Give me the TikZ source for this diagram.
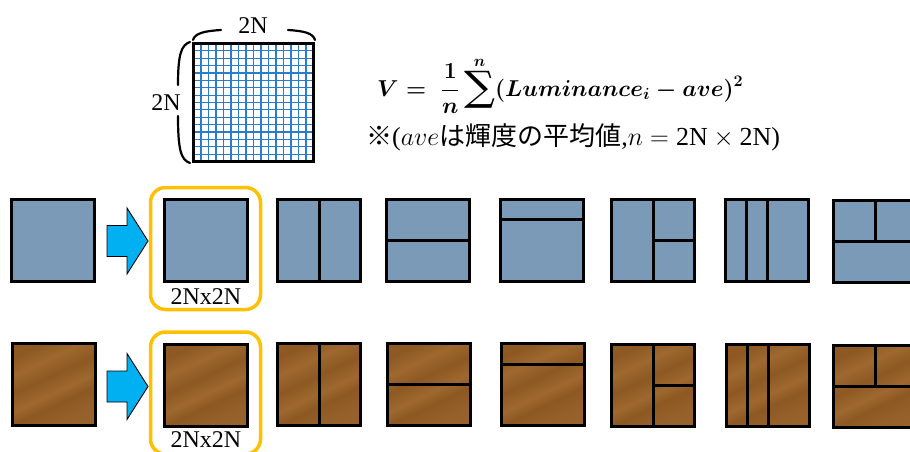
\RequirePackage{fix-cm}
\documentclass[tikz,border=0pt]{standalone}
\usepackage{graphicx}
\usepackage{fontspec}
\setmainfont{Liberation Serif}
\newfontfamily\jpfont{Noto Sans CJK JP}
\newfontfamily\sumfont{DejaVu Serif}
\usetikzlibrary{calc}
\definecolor{bluefill}{RGB}{122,154,184}
\definecolor{woodA}{RGB}{141,88,34}
\definecolor{woodB}{RGB}{158,104,48}
\definecolor{woodC}{RGB}{149,96,41}
\definecolor{hlorange}{RGB}{255,192,0}
\definecolor{arrowblue}{RGB}{0,176,240}
\definecolor{gridblue}{RGB}{40,125,205}
\pgfdeclarehorizontalshading{wood}{100bp}{color(0bp)=(woodC); color(25bp)=(woodA); color(35bp)=(woodB); color(45bp)=(woodA); color(55bp)=(woodB); color(62bp)=(woodA); color(72bp)=(woodC); color(100bp)=(woodB)}
\newsavebox{\myboxA}
\newsavebox{\myboxB}
\newcommand{\bigsumsym}{\mathop{\vcenter{\hbox{\resizebox*{31pt}{37pt}{\sumfont ∑}}}}\limits^{n\rule[-4pt]{0pt}{4pt}}}
\begin{document}
\sbox{\myboxA}{\fontsize{23}{27}\selectfont\mathversion{bold}$V=\;\displaystyle\frac{1}{n}\bigsumsym(Luminance_i-ave)^2$}
\sbox{\myboxB}{\fontsize{26}{30}\selectfont{\jpfont ※}($ave${\jpfont は輝度の平均値},$n=\mbox{2N}\times\mbox{2N}$)}
\begin{tikzpicture}[x=1pt,y=-1pt,
  sqbox/.style={draw=black, line width=3pt, minimum width=83pt, minimum height=82pt, inner sep=0pt, outer sep=0pt},
  bluesq/.style={sqbox, fill=bluefill},
  woodsq/.style={sqbox, shading=wood, shading angle=-65},
  divline/.style={draw=black, line width=3pt},
  hlbox/.style={draw=hlorange, line width=3.5pt, rounded corners=15pt},
  bigarrow/.style={draw=black, line width=0.9pt, fill=arrowblue, line join=miter},
  lbl/.style={font=\fontsize{24}{28}\selectfont, inner sep=0pt},
  bracepath/.style={draw=black, line width=2.2pt, line cap=round},
  gridline/.style={draw=gridblue, line width=1.1pt},
  txtbox/.style={anchor=base west, inner sep=0pt}
]
\useasboundingbox (0,0) rectangle (910,452);
\clip (0,0) rectangle (910,452);

% grid block
\foreach \i in {1,...,15} {
  \draw[gridline] ({193.5+\i*7.5},43.5) -- ({193.5+\i*7.5},161.5);
  \draw[gridline] (193.5,{43.5+\i*7.375}) -- (313.5,{43.5+\i*7.375});
}
\node[draw=black, line width=3pt, minimum width=120pt, minimum height=118pt, inner sep=0pt, outer sep=0pt] (grid) at (253.5,102.5) {};
\node[lbl] (topl) at (253,26) {2N};
\node[lbl] (leftl) at (166,103) {2N};
\draw[bracepath] (193,40) .. controls (195,33) and (205,31) .. (221,30);
\draw[bracepath] (288,30) .. controls (304,31) and (313,33) .. (315,40);
\draw[bracepath] (190,42) .. controls (181,45) and (178,55) .. (178,85);
\draw[bracepath] (178,116) .. controls (178,150) and (181,160) .. (190,163);

% formula
\node[txtbox] (f1) at (377,96) {\usebox{\myboxA}};
\node[txtbox] (f2) at (366,145) {\usebox{\myboxB}};

% row 1
\node[bluesq] (b1) at (53,240) {};
\node[bluesq] (b2) at (206,240.5) {};
\node[bluesq] (b3) at (319,240) {};
\node[bluesq] (b4) at (428,240) {};
\node[bluesq] (b5) at (542,240) {};
\node[bluesq] (b6) at (653,240.5) {};
\node[bluesq] (b7) at (767,240) {};
\node[bluesq] (b8) at (875,241.5) {};
% row 2
\node[woodsq] (w1) at (53.5,384) {};
\node[woodsq] (w2) at (206,385) {};
\node[woodsq] (w3) at (319,384.5) {};
\node[woodsq] (w4) at (428.5,384.5) {};
\node[woodsq] (w5) at (543,384.5) {};
\node[woodsq] (w6) at (653,385) {};
\node[woodsq] (w7) at (768,385.5) {};
\node[woodsq] (w8) at (875,386.5) {};

\foreach \r in {b,w} {
  \draw[divline] (\r3.north) -- (\r3.south);
  \draw[divline] (\r4.west) -- (\r4.east);
  \draw[divline] ($(\r5.north west)!0.25!(\r5.south west)$) -- ($(\r5.north east)!0.25!(\r5.south east)$);
  \draw[divline] (\r6.north) -- (\r6.south);
  \draw[divline] (\r6.center) -- (\r6.east);
  \draw[divline] ($(\r7.north west)!0.25!(\r7.north east)$) -- ($(\r7.south west)!0.25!(\r7.south east)$);
  \draw[divline] (\r7.north) -- (\r7.south);
  \draw[divline] (\r8.west) -- (\r8.east);
  \draw[divline] (\r8.north) -- (\r8.center);
}

% highlight boxes
\draw[hlbox] (150.5,187.5) rectangle (260.5,309.5);
\draw[hlbox] (150.5,332) rectangle (260.5,454);
\node[lbl] (l1) at (206,297) {2Nx2N};
\node[lbl] (l2) at (206,439.5) {2Nx2N};

% arrows
\coordinate (a1) at (107,241);
\coordinate (a2) at (107,386.5);
\foreach \a in {a1,a2} {
  \draw[bigarrow] ($(\a)+(0,-15.5)$) -- ++(20,0) -- ++(0,-17.5) -- ++(21,33) -- ++(-21,33) -- ++(0,-17.5) -- ++(-20,0) -- cycle;
}
\end{tikzpicture}
\end{document}
